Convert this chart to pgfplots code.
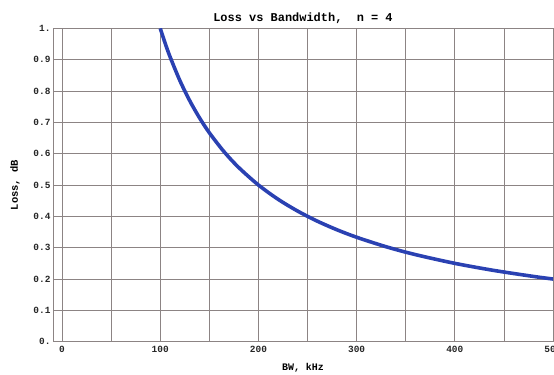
\documentclass[border=0pt]{standalone}
\usepackage{pgfplots}
\pgfplotsset{compat=1.18}
\usepackage{fontspec}
\setmainfont{Liberation Mono}
\definecolor{gridc}{RGB}{140,132,132}
\definecolor{curve}{RGB}{42,65,178}
\begin{document}
\begin{tikzpicture}
\useasboundingbox (0,0) rectangle (554bp,375bp);
\begin{axis}[
  at={(53bp,33.3bp)}, anchor=south west,
  scale only axis,
  width=500bp, height=313.4bp,
  xmin=-9.2, xmax=500, ymin=0, ymax=1,
  xtick={0,100,200,300,400,500},
  xticklabels={0,100,200,300,400,500},
  minor xtick={50,150,250,350,450},
  ytick={0,0.1,0.2,0.3,0.4,0.5,0.6,0.7,0.8,0.9,1},
  yticklabels={0.,0.1,0.2,0.3,0.4,0.5,0.6,0.7,0.8,0.9,1.},
  grid=both,
  major grid style={gridc, line width=0.8pt},
  minor grid style={gridc, line width=0.8pt},
  major tick length=0pt, minor tick length=0pt,
  axis line style={gridc, line width=0.9pt},
  ticklabel style={font=\fontsize{9.5}{10}\selectfont\bfseries, text=black!85},
  xticklabel style={yshift=-1pt},
  yticklabel style={xshift=1pt},
  title={\fontsize{12}{13}\selectfont\bfseries Loss vs Bandwidth,\ \ n = 4},
  title style={yshift=-5pt},
  xlabel={\fontsize{10}{12}\selectfont\bfseries BW, kHz},
  ylabel={\fontsize{10.5}{12}\selectfont\bfseries Loss, dB},
  xlabel style={yshift=-4pt},
  ylabel style={yshift=7pt},
  clip=true,
]
\addplot[curve, line width=3.6pt, smooth] coordinates {
(100,1.0) (105,0.9524) (110,0.9091) (120,0.8333) (130,0.7692) (140,0.7143)
(150,0.6667) (165,0.6061) (180,0.5556) (200,0.5) (220,0.4545) (240,0.4167)
(260,0.3846) (280,0.3571) (300,0.3333) (330,0.3030) (360,0.2778)
(400,0.25) (440,0.2273) (480,0.2083) (500,0.2) (510,0.1961)
};
\end{axis}
\end{tikzpicture}
\end{document}
